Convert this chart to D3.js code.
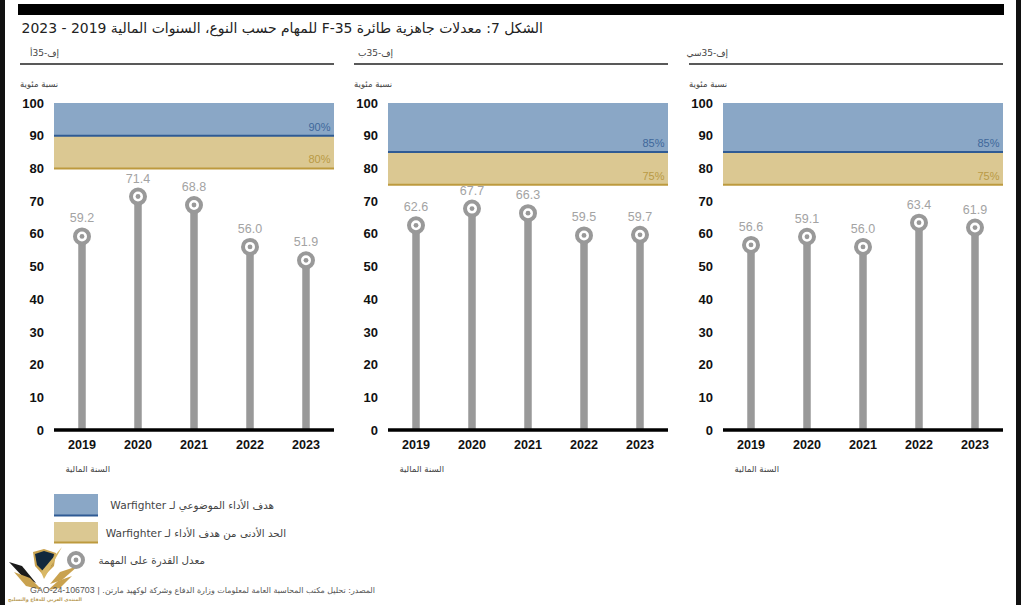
<!DOCTYPE html>
<html>
<head>
<meta charset="utf-8">
<script src="https://cdn.jsdelivr.net/npm/d3@7"></script>
<style>
  html, body { margin: 0; padding: 0; background: #fff; overflow: hidden; }
  text { font-family: "DejaVu Sans", sans-serif; }
</style>
</head>
<body>
<div id="chart"></div>
<script>
var years = ["2019", "2020", "2021", "2022", "2023"];
var yTicks = [0, 10, 20, 30, 40, 50, 60, 70, 80, 90, 100];
var panelNames = ["إف-35أ", "إف-35ب", "إف-35سي"];
var rateA = [59.2, 71.4, 68.8, 56.0, 51.9];
var rateB = [62.6, 67.7, 66.3, 59.5, 59.7];
var rateC = [56.6, 59.1, 56.0, 63.4, 61.9];
var objectiveGoals = [90, 85, 85];
var thresholdGoals = [80, 75, 75];

var titleText = "الشكل 7: معدلات جاهزية طائرة F-35 للمهام حسب النوع، السنوات المالية 2019 - 2023";
var yLabel = "نسبة مئوية";
var xLabel = "السنة المالية";
var legendObjective = "هدف الأداء الموضوعي لـ ";
var legendThreshold = "الحد الأدنى من هدف الأداء لـ ";
var legendRate = "معدل القدرة على المهمة";
var sourceText = "المصدر: تحليل مكتب المحاسبة العامة لمعلومات وزارة الدفاع وشركة لوكهيد مارتن. | ";
var sourceId = "GAO-24-106703";

var blue = "#8aa7c6", blueLine = "#2f5b94", blueText = "#3f679b";
var tan = "#dbc892", tanLine = "#bd9a3e", tanText = "#b99a45";
var grey = "#999999", labelGrey = "#a3a3a3";
var helv = '"Liberation Sans", sans-serif';

var svg = d3.select("#chart").append("svg").attr("width", 1021).attr("height", 605);

// scan borders of the original figure
svg.append("rect").attr("x", 0).attr("y", 0).attr("width", 5).attr("height", 605).attr("fill", "#111");
svg.append("rect").attr("x", 1016).attr("y", 0).attr("width", 5).attr("height", 605).attr("fill", "#111");
svg.append("rect").attr("x", 18).attr("y", 4).attr("width", 986).attr("height", 11).attr("fill", "#000");

svg.append("text").attr("x", 543).attr("y", 33)
  .attr("text-anchor", "start").attr("direction", "rtl")
  .attr("font-size", 13.95).attr("fill", "#222").text(titleText);

var y = d3.scaleLinear().domain([0, 100]).range([430, 103]);

function drawPanel(i, rates, left) {
  var g = svg.append("g").attr("transform", "translate(" + left + ",0)");
  var x = d3.scaleBand().domain(years).range([0, 280]);

  g.append("text").attr("x", 5).attr("y", 56).attr("text-anchor", "start").attr("direction", "rtl")
    .attr("font-size", 9).attr("fill", "#444").text(panelNames[i]);
  g.append("line").attr("x1", -34).attr("x2", 280).attr("y1", 64).attr("y2", 64)
    .attr("stroke", "#222").attr("stroke-width", 1.6);
  g.append("text").attr("x", -34).attr("y", 87).attr("text-anchor", "end").attr("direction", "rtl")
    .attr("font-size", 8.5).attr("fill", "#444").text(yLabel);

  g.append("rect").attr("x", 0).attr("width", 280).attr("y", y(100))
    .attr("height", y(objectiveGoals[i]) - y(100)).attr("fill", blue);
  g.append("rect").attr("x", 0).attr("width", 280).attr("y", y(objectiveGoals[i]))
    .attr("height", y(thresholdGoals[i]) - y(objectiveGoals[i])).attr("fill", tan);
  g.append("line").attr("x1", 0).attr("x2", 280).attr("y1", y(objectiveGoals[i])).attr("y2", y(objectiveGoals[i]))
    .attr("stroke", blueLine).attr("stroke-width", 2);
  g.append("line").attr("x1", 0).attr("x2", 280).attr("y1", y(thresholdGoals[i])).attr("y2", y(thresholdGoals[i]))
    .attr("stroke", tanLine).attr("stroke-width", 2);
  g.append("text").attr("x", 276.5).attr("y", y(objectiveGoals[i]) - 5).attr("text-anchor", "end")
    .attr("font-size", 11).attr("fill", blueText).style("font-family", helv).text(objectiveGoals[i] + "%");
  g.append("text").attr("x", 276.5).attr("y", y(thresholdGoals[i]) - 5).attr("text-anchor", "end")
    .attr("font-size", 11).attr("fill", tanText).style("font-family", helv).text(thresholdGoals[i] + "%");

  // y axis labels only
  var yAxis = d3.axisLeft(y).tickValues(yTicks).tickSize(0).tickPadding(10);
  var ya = g.append("g").call(yAxis);
  ya.select(".domain").remove();
  ya.selectAll("text").attr("font-size", 13).attr("font-weight", "bold").attr("fill", "#111")
    .style("font-family", helv);

  // lollipops
  var pts = g.selectAll("g.pt").data(rates).enter().append("g").attr("class", "pt");
  pts.append("line")
    .attr("x1", function (d, j) { return x(years[j]) + x.bandwidth() / 2; })
    .attr("x2", function (d, j) { return x(years[j]) + x.bandwidth() / 2; })
    .attr("y1", y(0))
    .attr("y2", function (d) { return y(d); })
    .attr("stroke", grey).attr("stroke-width", 7.5);
  pts.append("circle")
    .attr("cx", function (d, j) { return x(years[j]) + x.bandwidth() / 2; })
    .attr("cy", function (d) { return y(d); })
    .attr("r", 7).attr("fill", "#fff").attr("stroke", grey).attr("stroke-width", 4);
  pts.append("circle")
    .attr("cx", function (d, j) { return x(years[j]) + x.bandwidth() / 2; })
    .attr("cy", function (d) { return y(d); })
    .attr("r", 2.4).attr("fill", grey);
  pts.append("text")
    .attr("x", function (d, j) { return x(years[j]) + x.bandwidth() / 2; })
    .attr("y", function (d) { return y(d) - 14; })
    .attr("text-anchor", "middle").attr("font-size", 12.5).attr("fill", labelGrey)
    .style("font-family", helv)
    .text(function (d) { return d.toFixed(1); });

  // baseline and year labels
  g.append("line").attr("x1", 0).attr("x2", 280).attr("y1", y(0)).attr("y2", y(0))
    .attr("stroke", "#000").attr("stroke-width", 3.4);
  var xa = g.append("g").attr("transform", "translate(0," + y(0) + ")")
    .call(d3.axisBottom(x).tickSize(0).tickPadding(10));
  xa.select(".domain").remove();
  xa.selectAll("text").attr("font-size", 12.6).attr("font-weight", "bold").attr("fill", "#111")
    .style("font-family", helv);

  g.append("text").attr("x", 56).attr("y", 472).attr("text-anchor", "start").attr("direction", "rtl")
    .attr("font-size", 8.5).attr("fill", "#444").text(xLabel);
}

drawPanel(0, rateA, 54);
drawPanel(1, rateB, 388);
drawPanel(2, rateC, 723);

// forum watermark in the lower left corner, sits under the source line
var mark = svg.append("g");
mark.append("path").attr("d", "M33 552 L44 549 L56 553 L54 566 L44 576 L35 566 Z").attr("fill", "#c9a24f");
mark.append("path").attr("d", "M35 554 L44 551 L54 554 L52 565 L44 572 L37 565 Z").attr("fill", "#12283d");
mark.append("path").attr("d", "M62 547 L44 579 L41 572 Z").attr("fill", "#d8b765");
mark.append("path").attr("d", "M9 562 L22 566 L36 583 L24 578 Z").attr("fill", "#1a1a1a");
mark.append("path").attr("d", "M14 572 L30 578 L42 590 L26 586 Z").attr("fill", "#c9a24f");
mark.append("path").attr("d", "M78 566 L60 572 L50 584 L62 580 Z").attr("fill", "#c9a24f");
mark.append("path").attr("d", "M72 576 L58 581 L48 590 L60 588 Z").attr("fill", "#c9a24f");
svg.append("text").attr("x", 45).attr("y", 601).attr("text-anchor", "middle").attr("direction", "rtl")
  .attr("font-size", 4.8).attr("font-weight", "bold").attr("fill", "#b89a55").text("المنتدى العربي للدفاع والتسليح");

// legend
var legend = svg.append("g");
legend.append("rect").attr("x", 54).attr("y", 494).attr("width", 44).attr("height", 22).attr("fill", blue);
legend.append("line").attr("x1", 54).attr("x2", 98).attr("y1", 515.5).attr("y2", 515.5).attr("stroke", blueLine).attr("stroke-width", 2);
legend.append("rect").attr("x", 54).attr("y", 522).attr("width", 44).attr("height", 21).attr("fill", tan);
legend.append("line").attr("x1", 54).attr("x2", 98).attr("y1", 542.5).attr("y2", 542.5).attr("stroke", tanLine).attr("stroke-width", 2);
legend.append("circle").attr("cx", 76).attr("cy", 560).attr("r", 7).attr("fill", "#fff").attr("stroke", grey).attr("stroke-width", 4);
legend.append("circle").attr("cx", 76).attr("cy", 560).attr("r", 2.4).attr("fill", grey);

function legendLabel(txt, latin, right, yPos) {
  var t = legend.append("text").attr("x", right).attr("y", yPos).attr("text-anchor", "start").attr("direction", "rtl")
    .attr("font-size", 10.3).attr("fill", "#444").text(txt);
  if (latin) t.append("tspan").attr("font-size", 10.6).text(latin);
}
legendLabel(legendObjective, "Warfighter", 274, 509);
legendLabel(legendThreshold, "Warfighter", 286, 537);
legendLabel(legendRate, "", 205, 564);

var src = svg.append("text").attr("x", 375).attr("y", 593).attr("text-anchor", "start").attr("direction", "rtl")
  .attr("font-size", 7.95).attr("fill", "#555").text(sourceText);
src.append("tspan").attr("font-size", 8.8).style("font-family", helv).text(sourceId);
</script>
</body>
</html>
